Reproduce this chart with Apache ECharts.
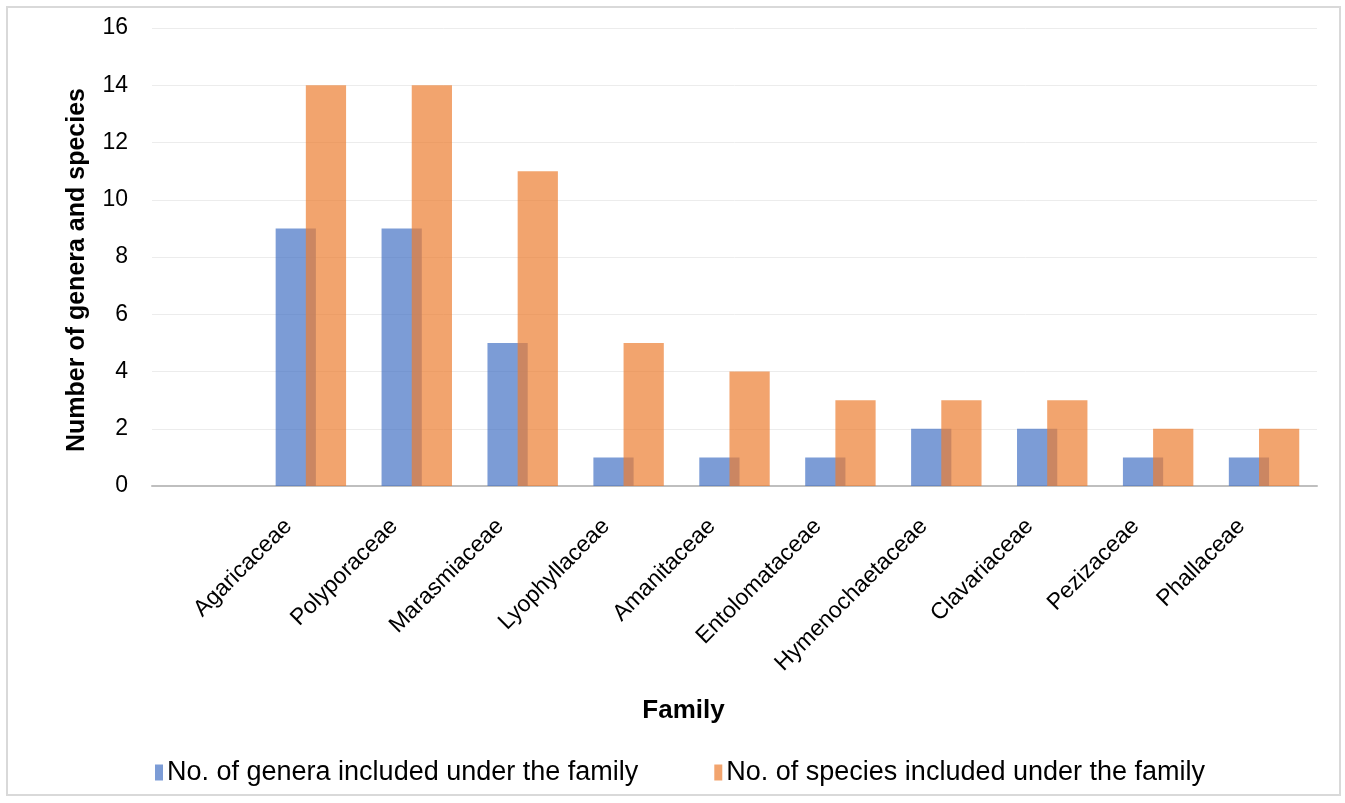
<!DOCTYPE html>
<html>
<head>
<meta charset="utf-8">
<script src="https://cdn.jsdelivr.net/npm/echarts@6/dist/echarts.min.js"></script>
<style>
  html, body { margin: 0; padding: 0; background: #fff; }
  #container { width: 1345px; height: 803px; }
</style>
</head>
<body>
<div id="container"></div>
<script>
// families (first slot left empty as in the original)
const families = ['', 'Agaricaceae', 'Polyporaceae', 'Marasmiaceae', 'Lyophyllaceae', 'Amanitaceae',
  'Entolomataceae', 'Hymenochaetaceae', 'Clavariaceae', 'Pezizaceae', 'Phallaceae'];
const generaCount = [null, 9, 9, 5, 1, 1, 1, 2, 2, 1, 1];
const speciesCount = [null, 14, 14, 11, 5, 4, 3, 3, 3, 2, 2];
const seriesNames = ['No. of genera included under the family', 'No. of species included under the family'];

const chart = echarts.init(document.getElementById('container'), null, { renderer: 'canvas' });

const font = 'Arial, "Liberation Sans", sans-serif';

chart.setOption({
  backgroundColor: '#fff',
  animation: false,
  graphic: [{
    type: 'rect',
    shape: { x: 7, y: 7, width: 1333, height: 788 },
    style: { fill: 'none', stroke: '#d9d9d9', lineWidth: 2 },
    silent: true
  }],
  legend: {
    top: 754,
    left: 150,
    itemWidth: 8,
    itemHeight: 16,
    itemGap: 76,
    icon: 'rect',
    textStyle: { fontFamily: font, fontSize: 27, color: '#000', padding: [0, 0, 0, -1] },
    data: seriesNames
  },
  grid: { left: 152, right: 28, top: 28, bottom: 317, containLabel: false },
  xAxis: {
    type: 'category',
    data: families,
    name: 'Family',
    nameLocation: 'middle',
    nameGap: 212,
    nameTextStyle: { fontFamily: font, fontSize: 26, fontWeight: 'bold', color: '#000', padding: [0, 102, 0, 0] },
    axisLine: { lineStyle: { color: '#bfbfbf', width: 2 } },
    axisTick: { show: false },
    axisLabel: { rotate: 45, fontFamily: font, fontSize: 23, color: '#000', interval: 0, margin: 14, padding: [0, 32, 0, 0] }
  },
  yAxis: {
    type: 'value',
    min: 0,
    max: 16,
    interval: 2,
    name: 'Number of genera and species',
    nameLocation: 'middle',
    nameGap: 62,
    nameTextStyle: { fontFamily: font, fontSize: 25, fontWeight: 'bold', color: '#000', padding: [0, 26, 0, 0] },
    axisLine: { show: false },
    axisTick: { show: false },
    axisLabel: { fontFamily: font, fontSize: 23, color: '#000', margin: 24 },
    splitLine: { lineStyle: { color: '#ececec', width: 1 } }
  },
  series: [
    {
      name: seriesNames[0],
      type: 'bar',
      data: generaCount,
      barWidth: '38%',
      barGap: '-25%',
      itemStyle: { color: '#4472c4', opacity: 0.7 }
    },
    {
      name: seriesNames[1],
      type: 'bar',
      data: speciesCount,
      barWidth: '38%',
      barGap: '-25%',
      itemStyle: { color: '#ed7d31', opacity: 0.7 }
    }
  ]
});

window.addEventListener('resize', () => chart.resize());
</script>
</body>
</html>
